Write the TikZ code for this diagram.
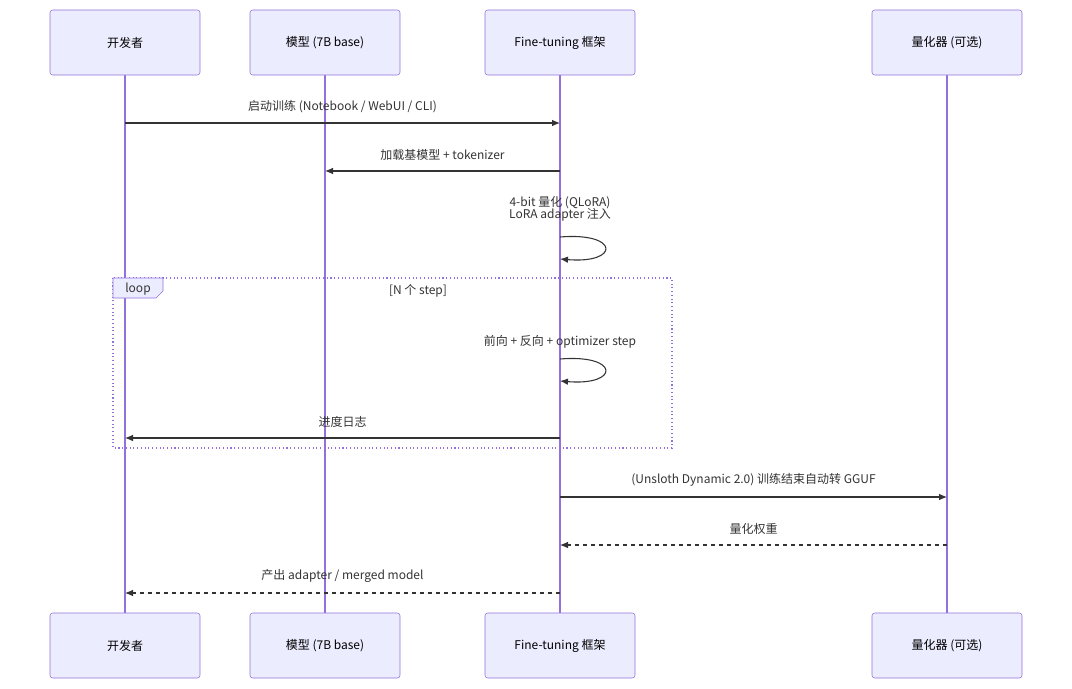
\documentclass[tikz,border=0pt]{standalone}
\usepackage{fontspec}
\setmainfont{Noto Sans CJK SC}
\usetikzlibrary{arrows.meta,positioning}
\definecolor{actfill}{HTML}{ECECFF}
\definecolor{actline}{HTML}{9370DB}
\definecolor{msgline}{HTML}{333333}
\tikzset{
  actor/.style={draw=actline,fill=actfill,minimum width=112.5pt,minimum height=48.75pt,rounded corners=2pt,font=\small},
  msg/.style={draw=msgline,thick,-{Latex[length=6pt,width=5pt]}},
  reply/.style={msg,dashed},
  lbl/.style={font=\small,text=msgline,align=center}
}
\begin{document}
\begin{tikzpicture}[x=0.75pt,y=-0.75pt]
    \useasboundingbox (0,0) rectangle (1072,689);

    % Participants and lifelines
    \foreach \name/\x/\txt in {dev/125/开发者, mdl/325/模型 (7B base), ft/560/Fine-tuning 框架, qz/947/量化器 (可选)} {
        \draw[actline,thick] (\x,75) -- (\x,613);
        \node[actor] (\name top) at (\x,42.5) {\txt};
        \node[actor] (\name bot) at (\x,645.5) {\txt};
    }

    % Loop frame
    \draw[actline,thick,dotted] (113,278) rectangle (672,448);
    \draw[actline,fill=actfill] (113,278) -- (163,278) -- (163,291) -- (156,298) -- (113,298) -- cycle;
    \node[lbl] at (138,289) {loop};
    \node[lbl] at (418,291) {[N 个 step]};

    % Message anchors
    \foreach \name/\x in {dev/125, mdl/325, ft/560, qz/947} {
        \foreach \y in {123,171,438,497,545,593} {
            \coordinate (\name\y) at (\x,\y);
        }
    }

    % Messages
    \draw[msg] (dev123) -- (ft123) node[lbl,midway,above=4pt] {启动训练 (Notebook / WebUI / CLI)};
    \draw[msg] (ft171) -- (mdl171) node[lbl,midway,above=4pt] {加载基模型 + tokenizer};
    \node[lbl] (quant) at (560,209) {4-bit 量化 (QLoRA)\\[-2pt]LoRA adapter 注入};
    \coordinate (s1) at (560,237);
    \coordinate (e1) at (560,259);
    \draw[msg] (s1) .. controls (620,232) and (620,264) .. (e1);
    \node[lbl] (fwd) at (560,342) {前向 + 反向 + optimizer step};
    \coordinate (s2) at (560,359);
    \coordinate (e2) at (560,381);
    \draw[msg] (s2) .. controls (620,354) and (620,386) .. (e2);
    \draw[msg] (ft438) -- (dev438) node[lbl,midway,above=4pt] {进度日志};
    \draw[msg] (ft497) -- (qz497) node[lbl,midway,above=4pt] {(Unsloth Dynamic 2.0) 训练结束自动转 GGUF};
    \draw[reply] (qz545) -- (ft545) node[lbl,midway,above=4pt] {量化权重};
    \draw[reply] (ft593) -- (dev593) node[lbl,midway,above=4pt] {产出 adapter / merged model};
\end{tikzpicture}
\end{document}
